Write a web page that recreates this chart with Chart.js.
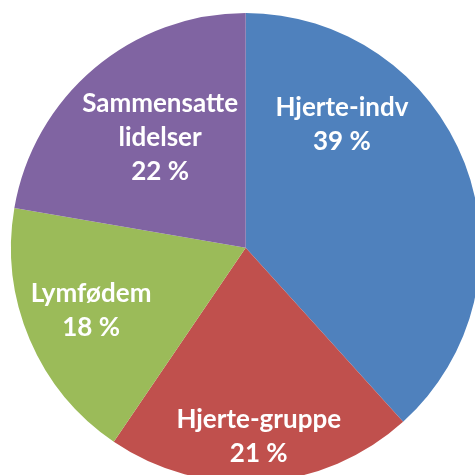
<!DOCTYPE html>
<html>
<head>
<meta charset="utf-8">
<script src="https://cdn.jsdelivr.net/npm/chart.js@4"></script>
<style>
  html, body { margin: 0; padding: 0; background: #fff; overflow: hidden; }
  #wrap { width: 475px; height: 475px; overflow: hidden; }
</style>
</head>
<body>
<div id="wrap"><canvas id="c" width="500" height="500"></canvas></div>
<script>
var categories = ['Hjerte-indv', 'Hjerte-gruppe', 'Lymfødem', 'Sammensatte lidelser'];
var values = [38.3, 21.2, 18.2, 22.3];
var percentLabels = ['39 %', '21 %', '18 %', '22 %'];
var labelLines = [['Hjerte-indv'], ['Hjerte-gruppe'], ['Lymfødem'], ['Sammensatte', 'lidelser']];
var colors = ['#4F81BD', '#C0504D', '#9BBB59', '#8064A2'];

// where each label sits inside its slice: fraction along the arc, fraction of radius
var labelAlong = [0.276, 0.5, 0.515, 0.529];
var labelRadius = [0.665, 0.806, 0.711, 0.595];

var sliceLabels = {
  id: 'sliceLabels',
  afterDatasetsDraw: function(chart) {
    var ctx = chart.ctx;
    var meta = chart.getDatasetMeta(0);
    ctx.save();
    ctx.fillStyle = '#fff';
    ctx.font = 'bold 26px Lato';
    ctx.textAlign = 'center';
    ctx.textBaseline = 'middle';
    meta.data.forEach(function(arc, i) {
      var a = arc.startAngle + labelAlong[i] * (arc.endAngle - arc.startAngle);
      var r = arc.outerRadius * labelRadius[i];
      var x = arc.x + Math.cos(a) * r;
      var y = arc.y + Math.sin(a) * r;
      var lines = labelLines[i].concat([percentLabels[i]]);
      var lh = 34;
      var top = y - (lines.length - 1) * lh / 2;
      for (var k = 0; k < lines.length; ++k) {
        ctx.fillText(lines[k], x, top + k * lh);
      }
    });
    ctx.restore();
  }
};

var ctx = document.getElementById('c').getContext('2d');
var chart = new Chart(ctx, {
  type: 'pie',
  data: {
    labels: categories,
    datasets: [{
      data: values,
      backgroundColor: colors,
      borderWidth: 0
    }]
  },
  options: {
    responsive: false,
    devicePixelRatio: 1,
    animation: false,
    layout: { padding: { left: 11, top: 13, right: 19.6, bottom: 17.6 } },
    plugins: {
      legend: { display: false },
      tooltip: { enabled: false }
    }
  },
  plugins: [sliceLabels]
});
</script>
</body>
</html>
